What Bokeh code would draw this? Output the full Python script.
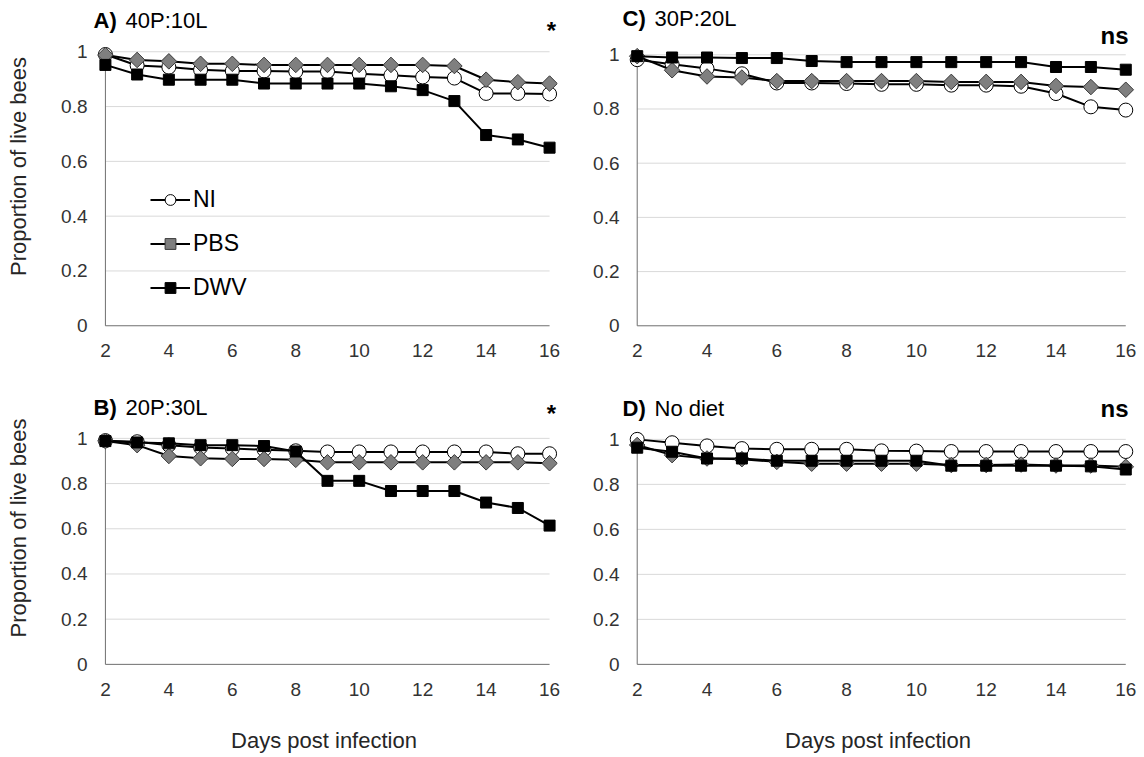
import math
from bokeh.plotting import figure
from bokeh.layouts import row, column
from bokeh.models import (Range1d, FixedTicker, Label, Legend, LegendItem,
                          NumeralTickFormatter)
from bokeh.embed import file_html
from bokeh.resources import INLINE

# ---------------- data ----------------
days = list(range(2, 17))
x_ticks = [2, 4, 6, 8, 10, 12, 14, 16]
y_ticks = [0.0, 0.2, 0.4, 0.6, 0.8, 1.0]
y_tick_labels = ["0", "0.2", "0.4", "0.6", "0.8", "1"]
series_names = ["NI", "PBS", "DWV"]

# A) 40P:10L
ni_a = [0.990, 0.950, 0.944, 0.934, 0.930, 0.930, 0.928, 0.928, 0.920, 0.914, 0.908, 0.904, 0.848, 0.848, 0.846]
pbs_a = [0.988, 0.970, 0.965, 0.956, 0.956, 0.952, 0.952, 0.952, 0.952, 0.952, 0.952, 0.948, 0.898, 0.889, 0.884]
dwv_a = [0.952, 0.917, 0.898, 0.898, 0.898, 0.884, 0.884, 0.884, 0.884, 0.874, 0.860, 0.820, 0.696, 0.680, 0.650]
# B) 20P:30L
ni_b = [0.990, 0.985, 0.970, 0.960, 0.955, 0.950, 0.945, 0.940, 0.940, 0.940, 0.940, 0.940, 0.940, 0.932, 0.932]
pbs_b = [0.988, 0.970, 0.922, 0.912, 0.909, 0.909, 0.905, 0.894, 0.894, 0.894, 0.894, 0.894, 0.894, 0.894, 0.890]
dwv_b = [0.988, 0.982, 0.978, 0.970, 0.970, 0.966, 0.942, 0.812, 0.812, 0.767, 0.767, 0.767, 0.716, 0.692, 0.614]
# C) 30P:20L
ni_c = [0.982, 0.965, 0.949, 0.930, 0.896, 0.896, 0.894, 0.891, 0.891, 0.888, 0.888, 0.884, 0.857, 0.808, 0.796]
pbs_c = [0.995, 0.943, 0.920, 0.916, 0.903, 0.903, 0.903, 0.903, 0.903, 0.900, 0.900, 0.900, 0.885, 0.881, 0.871]
dwv_c = [0.995, 0.990, 0.990, 0.988, 0.988, 0.977, 0.973, 0.973, 0.973, 0.973, 0.973, 0.973, 0.955, 0.955, 0.945]
# D) No diet
ni_d = [1.000, 0.985, 0.971, 0.959, 0.956, 0.956, 0.956, 0.949, 0.948, 0.946, 0.946, 0.946, 0.946, 0.946, 0.946]
pbs_d = [0.975, 0.930, 0.915, 0.912, 0.900, 0.892, 0.892, 0.892, 0.892, 0.886, 0.886, 0.888, 0.884, 0.884, 0.878]
dwv_d = [0.963, 0.945, 0.915, 0.915, 0.905, 0.905, 0.905, 0.905, 0.905, 0.883, 0.883, 0.883, 0.883, 0.880, 0.866]

panel_letters = ["A)", "B)", "C)", "D)"]
panel_titles = ["40P:10L", "20P:30L", "30P:20L", "No diet"]
significance = ["*", "*", "ns", "ns"]
y_axis_title = "Proportion of live bees"
x_axis_title = "Days post infection"

FONT = "Liberation Sans"


def make_panel(letter, title, sig, ni, pbs, dwv, *, width, height, mbl, mbr, mbt, mbb,
               xr, yr, title_dx, title_y, sig_x, sig_y, sig_align,
               ylab=False, xlab=False, legend=False, ytick_standoff=3, xtick_standoff=15):
    p = figure(width=width, height=height,
               x_range=Range1d(*xr), y_range=Range1d(*yr),
               output_backend="svg", toolbar_location=None,
               min_border_left=mbl, min_border_right=mbr,
               min_border_top=mbt, min_border_bottom=mbb,
               background_fill_color="white", border_fill_color="white")
    p.outline_line_color = None
    p.grid.visible = False

    for ax in (p.xaxis[0], p.yaxis[0]):
        ax.axis_line_color = None
        ax.major_tick_line_color = None
        ax.minor_tick_line_color = None
        ax.major_tick_out = 0
        ax.major_tick_in = 0
        ax.minor_tick_out = 0
        ax.minor_tick_in = 0
        ax.major_label_text_font = FONT
        ax.major_label_text_font_size = "19px"
        ax.major_label_text_color = "#333333"
        ax.axis_label_text_font = FONT
        ax.axis_label_text_font_style = "normal"
        ax.axis_label_text_color = "#262626"
    p.xaxis.ticker = FixedTicker(ticks=x_ticks)
    p.xaxis.bounds = (days[0], days[-1])
    p.xaxis.major_label_standoff = xtick_standoff
    p.yaxis.ticker = FixedTicker(ticks=y_ticks)
    p.yaxis.bounds = (y_ticks[0], y_ticks[-1])
    p.yaxis.formatter = NumeralTickFormatter(format="0.[0]")
    p.yaxis.major_label_overrides = dict(zip(y_ticks, y_tick_labels))
    p.yaxis.major_label_standoff = ytick_standoff
    if ylab:
        p.yaxis.axis_label = y_axis_title
        p.yaxis.axis_label_text_font_size = "22px"
        p.yaxis.axis_label_standoff = 27
    if xlab:
        p.xaxis.axis_label = x_axis_title
        p.xaxis.axis_label_text_font_size = "22px"
        p.xaxis.axis_label_standoff = 29

    # gridlines (from first to last day) and axis lines
    n = len(y_ticks) - 1
    p.segment(x0=[days[0]] * n, y0=y_ticks[1:], x1=[days[-1]] * n, y1=y_ticks[1:],
              line_color="#d9d9d9", line_width=1)
    p.segment(x0=[days[0]], y0=[y_ticks[0]], x1=[days[-1]], y1=[y_ticks[0]],
              line_color="#6f6f6f", line_width=1)
    p.segment(x0=[days[0]], y0=[y_ticks[0]], x1=[days[0]], y1=[y_ticks[-1]],
              line_color="#6f6f6f", line_width=1)

    l1 = p.line(days, ni, line_color="black", line_width=2)
    s1 = p.scatter(days, ni, marker="circle", size=14, fill_color="white",
                   line_color="black", line_width=1)
    l2 = p.line(days, pbs, line_color="black", line_width=2)
    s2 = p.scatter(days, pbs, marker="square", angle=math.pi / 4, size=11,
                   fill_color="#7f7f7f", line_color="#3a3a3a", line_width=1)
    l3 = p.line(days, dwv, line_color="black", line_width=2)
    s3 = p.scatter(days, dwv, marker="square", size=11, fill_color="black",
                   line_color="black", line_width=1)

    if legend:
        items = [LegendItem(label=series_names[0], renderers=[l1, s1]),
                 LegendItem(label=series_names[1], renderers=[l2, s2]),
                 LegendItem(label=series_names[2], renderers=[l3, s3])]
        lg = Legend(items=items, location=(60, 27), padding=0, margin=0,
                    border_line_color=None, background_fill_alpha=0,
                    glyph_width=40, glyph_height=27, spacing=17, label_standoff=3,
                    label_text_font=FONT, label_text_font_size="23px",
                    label_text_color="black")
        p.add_layout(lg)

    p.add_layout(Label(x=title_dx, y=title_y, x_units="screen", y_units="screen",
                       text=letter, text_font=FONT, text_font_style="bold",
                       text_font_size="22px", text_baseline="middle",
                       text_align="left", text_color="black"))
    p.add_layout(Label(x=title_dx + 32, y=title_y, x_units="screen", y_units="screen",
                       text=title, text_font=FONT, text_font_size="22px",
                       text_baseline="middle", text_align="left", text_color="black"))
    p.add_layout(Label(x=sig_x, y=sig_y, x_units="screen", y_units="screen",
                       text=sig, text_font=FONT, text_font_style="bold",
                       text_font_size="24px", text_baseline="alphabetic",
                       text_align=sig_align, text_color="black"))
    return p


pA = make_panel(panel_letters[0], panel_titles[0], significance[0], ni_a, pbs_a, dwv_a,
                width=590, height=380, mbl=90, mbr=33, mbt=4, mbb=52,
                xr=(1.53, 16.25), yr=(-0.01, 1.1725),
                title_dx=3, title_y=308, sig_x=461, sig_y=298, sig_align="center",
                ylab=True, legend=True)
pC = make_panel(panel_letters[2], panel_titles[2], significance[2], ni_c, pbs_c, dwv_c,
                width=554, height=380, mbl=31, mbr=10, mbt=4, mbb=52,
                xr=(1.55, 16.25), yr=(-0.01, 1.1856),
                title_dx=1, title_y=310, sig_x=507, sig_y=293, sig_align="right",
                ytick_standoff=2)
pB = make_panel(panel_letters[1], panel_titles[1], significance[1], ni_b, pbs_b, dwv_b,
                width=590, height=377, mbl=90, mbr=33, mbt=10, mbb=92,
                xr=(1.53, 16.25), yr=(-0.005, 1.2118),
                title_dx=3, title_y=258, sig_x=461, sig_y=252, sig_align="center",
                ylab=True, xlab=True, xtick_standoff=17)
pD = make_panel(panel_letters[3], panel_titles[3], significance[3], ni_d, pbs_d, dwv_d,
                width=554, height=377, mbl=31, mbr=10, mbt=10, mbb=92,
                xr=(1.55, 16.25), yr=(-0.005, 1.2172),
                title_dx=1, title_y=257, sig_x=507, sig_y=257, sig_align="right",
                xlab=True, ytick_standoff=2, xtick_standoff=17)

layout = column(row(pA, pC), row(pB, pD))
open("out.html", "w").write(file_html(layout, INLINE))
